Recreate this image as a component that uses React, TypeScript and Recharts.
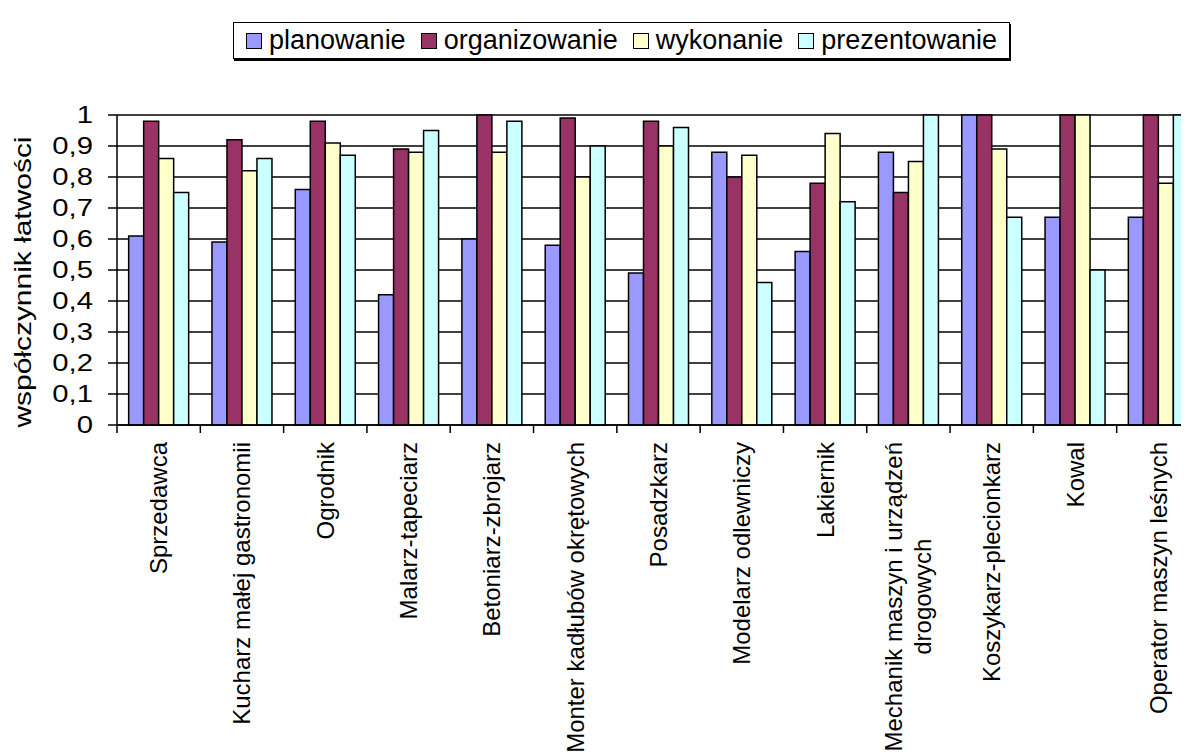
import { BarChart, Bar, XAxis, YAxis, CartesianGrid } from 'recharts'

const categories = [
  'Sprzedawca',
  'Kucharz małej gastronomii',
  'Ogrodnik',
  'Malarz-tapeciarz',
  'Betoniarz-zbrojarz',
  'Monter kadłubów okrętowych',
  'Posadzkarz',
  'Modelarz odlewniczy',
  'Lakiernik',
  'Mechanik maszyn i urządzeń drogowych',
  'Koszykarz-plecionkarz',
  'Kowal',
  'Operator maszyn leśnych',
]
const planowanie = [0.61, 0.59, 0.76, 0.42, 0.6, 0.58, 0.49, 0.88, 0.56, 0.88, 1.0, 0.67, 0.67]
const organizowanie = [0.98, 0.92, 0.98, 0.89, 1.0, 0.99, 0.98, 0.8, 0.78, 0.75, 1.0, 1.0, 1.0]
const wykonanie = [0.86, 0.82, 0.91, 0.88, 0.88, 0.8, 0.9, 0.87, 0.94, 0.85, 0.89, 1.0, 0.78]
const prezentowanie = [0.75, 0.86, 0.87, 0.95, 0.98, 0.9, 0.96, 0.46, 0.72, 1.0, 0.67, 0.5, 1.0]
const yTicks = [0, 0.1, 0.2, 0.3, 0.4, 0.5, 0.6, 0.7, 0.8, 0.9, 1]

const SERIES = [
  { key: 'planowanie', color: '#9999ff' },
  { key: 'organizowanie', color: '#993366' },
  { key: 'wykonanie', color: '#ffffcc' },
  { key: 'prezentowanie', color: '#ccffff' },
]

const data = categories.map((name, i) => ({
  name,
  planowanie: planowanie[i],
  organizowanie: organizowanie[i],
  wykonanie: wykonanie[i],
  prezentowanie: prezentowanie[i],
}))

const FONT = '"Liberation Sans", Arial, sans-serif'
const X_FS = 24

let ctx: CanvasRenderingContext2D | null = null
function textWidth(s: string) {
  if (!ctx) ctx = document.createElement('canvas').getContext('2d')
  if (!ctx) return s.length * X_FS * 0.5
  ctx.font = `${X_FS}px "Liberation Sans", Arial, sans-serif`
  return ctx.measureText(s).width
}

function wrap(s: string) {
  if (s.length <= 30) return [s]
  const cut = s.lastIndexOf(' ', 30)
  return [s.slice(0, cut), s.slice(cut + 1)]
}

// rotated label, lines centred on each other, first line starts just under the axis
function CategoryTick({ x, y, payload }: any) {
  const lines = wrap(payload.value)
  const half = payload.offset ?? 41.67
  const widths = lines.map(textWidth)
  const maxW = Math.max(...widths)
  const top = y + 17
  const lh = 29
  return (
    <g>
      <line x1={x - half} y1={y} x2={x - half} y2={y + 8} stroke="#000" strokeWidth={1.5} />
      {lines.map((l, i) => {
        const xi = x + (i - (lines.length - 1) / 2) * lh
        const yi = top + (maxW - widths[i]) / 2
        return (
          <text key={i} x={xi} y={yi} transform={`rotate(-90, ${xi}, ${yi})`}
            textAnchor="end" dominantBaseline="central"
            fontSize={X_FS} fontFamily={FONT} fill="#000">
            {l}
          </text>
        )
      })}
    </g>
  )
}

function ValueTick({ x, y, payload }: any) {
  const label = String(payload.value).replace('.', ',')
  return (
    <text x={x} y={y} transform={`translate(${x} ${y}) scale(1.22 1) translate(${-x} ${-y})`}
      textAnchor="end" dominantBaseline="central" fontSize={24} fontFamily={FONT} fill="#000">
      {label}
    </text>
  )
}

function YLabel({ viewBox }: any) {
  const cx = viewBox.x + 14
  const cy = viewBox.y + viewBox.height / 2 + 12
  return (
    <text x={cx} y={cy} transform={`rotate(-90, ${cx}, ${cy})`} textAnchor="middle"
      dominantBaseline="central" fontSize={24} fontFamily={FONT} fill="#000"
      textLength={291} lengthAdjust="spacingAndGlyphs">
      współczynnik łatwości
    </text>
  )
}

function LegendBox() {
  return (
    <div style={{
      position: 'absolute', left: 225, top: 14, width: 775, height: 35,
      border: '1px solid #000', boxShadow: '1px 2px 0 #000', background: '#fff',
      display: 'flex', alignItems: 'center', justifyContent: 'center',
      fontFamily: FONT, fontSize: 27, color: '#000', gap: 15,
    }}>
      {SERIES.map(s => (
        <div key={s.key} style={{ display: 'flex', alignItems: 'center', gap: 7 }}>
          <span style={{
            display: 'inline-block', width: 14, height: 14,
            background: s.color, border: '1.5px solid #000',
          }} />
          <span>{s.key}</span>
        </div>
      ))}
    </div>
  )
}

export default function App() {
  return (
    <div style={{ position: 'relative', width: 1181, height: 746, overflow: 'hidden', background: '#fff' }}>
      <BarChart width={1200} height={746} data={data}
        margin={{ top: 107, right: 8, bottom: 0, left: 0 }}
        barCategoryGap="14%" barGap={0}>
        <CartesianGrid horizontal vertical={false} stroke="#000" strokeWidth={1.3} strokeOpacity={1} />
        <XAxis dataKey="name" interval={0} height={329} tickLine={false} tickSize={0} tickMargin={0}
          axisLine={{ stroke: '#000', strokeWidth: 1.5 }} tick={<CategoryTick />} />
        <YAxis width={109} domain={[0, 1]} ticks={yTicks} interval={0}
          axisLine={{ stroke: '#000', strokeWidth: 1.5 }}
          tickLine={{ stroke: '#000', strokeWidth: 1.5 }} tickSize={9} tickMargin={15}
          tick={<ValueTick />}
          label={<YLabel />} />
        {SERIES.map(s => (
          <Bar key={s.key} dataKey={s.key} fill={s.color} stroke="#000" strokeWidth={1.5}
            isAnimationActive={false} />
        ))}
      </BarChart>
      <LegendBox />
    </div>
  )
}
